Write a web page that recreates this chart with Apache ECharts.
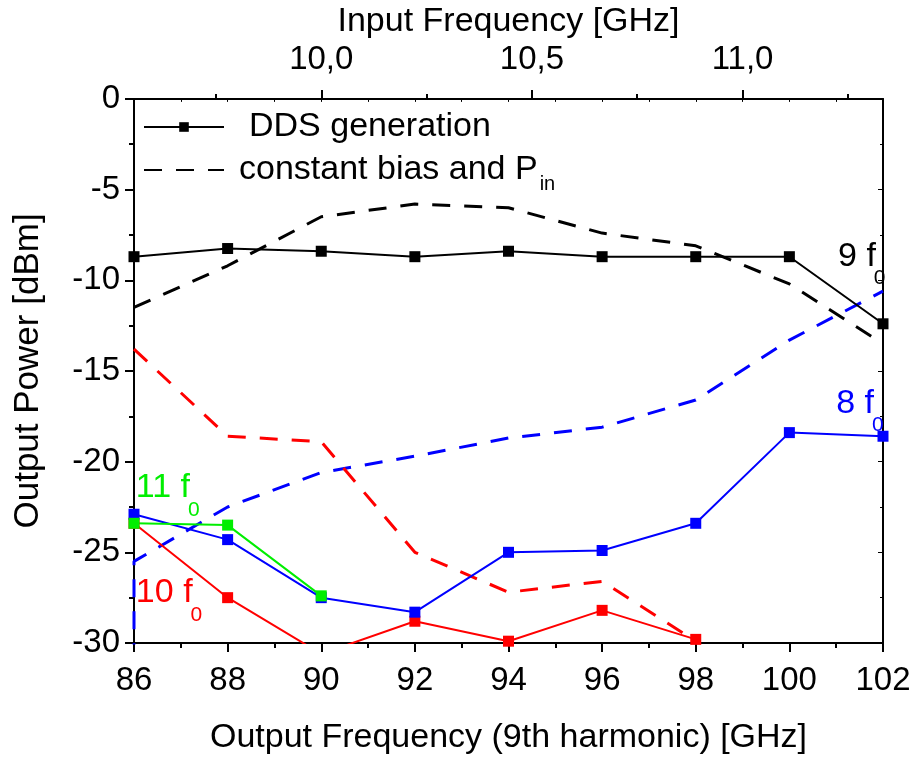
<!DOCTYPE html>
<html>
<head>
<meta charset="utf-8">
<script src="https://cdn.jsdelivr.net/npm/echarts@6/dist/echarts.min.js"></script>
<style>html,body{margin:0;padding:0;background:#fff}#c{width:915px;height:760px}</style>
</head>
<body>
<div id="c"></div>
<script>
// ---- data ----
const outFreq = [86, 88, 90, 92, 94, 96, 98, 100, 102];
const dds9 = [-8.7, -8.25, -8.4, -8.7, -8.4, -8.7, -8.7, -8.7, -12.4];
const bias9 = [-11.5, -9.2, -6.5, -5.8, -6.0, -7.4, -8.1, -10.2, -13.5];
const dds8 = [-22.9, -24.3, -27.5, -28.3, -25.0, -24.9, -23.4, -18.4, -18.6];
const bias8 = [-25.5, -22.5, -20.6, -19.7, -18.7, -18.1, -16.6, -13.3, -10.6];
const bias8Start = [86, -31];
const dds10 = [-23.4, -27.5, -30.6, -28.8, -29.9, -28.2, -29.8];
const bias10 = [-13.8, -18.6, -18.9, -25.0, -27.2, -26.6, -29.9];
const dds11 = [-23.4, -23.5, -27.4];
const inputMajorTicks = [10.0, 10.5, 11.0];
const inputMinorTicks = [9.75, 10.25, 10.75, 11.25];
const harmonic = 9;
const annotations = [
  {main: '9 f', sub: '0', x: 101.04, y: -8.7, color: '#000000'},
  {main: '8 f', sub: '0', x: 101.0, y: -16.8, color: '#0000ff'},
  {main: '11 f', sub: '0', x: 86.04, y: -21.45, color: '#00ee00'},
  {main: '10 f', sub: '0', x: 86.04, y: -27.25, color: '#ff0000'}
];

const FONT = 'Liberation Sans';
const TICK_FS = 33, NAME_FS = 34, LEG_FS = 34, ANN_FS = 34;
const pair = (xs, ys) => ys.map((v, i) => [xs[i], v]);

const chart = echarts.init(document.getElementById('c'), null, {renderer: 'canvas'});

const solid = (name, color, data) => ({
  name, type: 'line', data, xAxisIndex: 0, yAxisIndex: 0,
  symbol: 'rect', symbolSize: 11, clip: true,
  lineStyle: {color, width: 2}, itemStyle: {color},
  emphasis: {disabled: true}, silent: true, animation: false, z: 4
});
const dashed = (name, color, data) => ({
  name, type: 'line', data, xAxisIndex: 0, yAxisIndex: 0,
  symbol: 'none', clip: true,
  lineStyle: {color, width: 3, type: [18, 14]}, itemStyle: {color},
  emphasis: {disabled: true}, silent: true, animation: false, z: 3
});

const option = {
  animation: false,
  textStyle: {fontFamily: FONT},
  grid: {left: 134, right: 32, top: 92, bottom: 112, containLabel: false},
  legend: {
    orient: 'vertical', left: 138, top: 105, itemWidth: 80, itemHeight: 12, itemGap: 9,
    selectedMode: false,
    data: [
      {name: 'DDS generation'},
      {name: 'constant', itemStyle: {opacity: 0, borderWidth: 0}}
    ],
    formatter: n => n === 'DDS generation' ? '{a|DDS generation}' : '{b|constant bias and P}{s|in}',
    textStyle: {
      fontFamily: FONT, fontSize: LEG_FS, color: '#000',
      rich: {
        a: {fontFamily: FONT, fontSize: LEG_FS, color: '#000', padding: [0, 0, 0, 20]},
        b: {fontFamily: FONT, fontSize: LEG_FS, color: '#000', padding: [0, 0, 0, 10]},
        s: {fontFamily: FONT, fontSize: 20, color: '#000', padding: [28, 0, 0, 2]}
      }
    }
  },
  xAxis: [
    {
      type: 'value', position: 'bottom', min: 86, max: 102, interval: 2,
      name: 'Output Frequency (9th harmonic) [GHz]', nameLocation: 'middle', nameGap: 78,
      nameTextStyle: {fontFamily: FONT, fontSize: NAME_FS, color: '#000'},
      axisLine: {show: true, onZero: false, lineStyle: {color: '#000', width: 2}},
      axisTick: {show: true, inside: false, length: 9, lineStyle: {color: '#000', width: 2}},
      minorTick: {show: true, splitNumber: 2, length: 5, lineStyle: {color: '#000', width: 2}},
      axisLabel: {fontFamily: FONT, fontSize: TICK_FS, color: '#000', margin: 21},
      splitLine: {show: false}
    },
    {
      type: 'value', position: 'top', min: 86 / harmonic, max: 102 / harmonic,
      name: 'Input Frequency [GHz]', nameLocation: 'middle', nameGap: 56,
      nameTextStyle: {fontFamily: FONT, fontSize: NAME_FS, color: '#000'},
      axisLine: {show: true, onZero: false, lineStyle: {color: '#000', width: 2}},
      axisTick: {show: true, inside: false, length: 9, customValues: inputMajorTicks, lineStyle: {color: '#000', width: 2}},
      axisLabel: {fontFamily: FONT, fontSize: TICK_FS, color: '#000', margin: 22, customValues: inputMajorTicks,
        formatter: v => v.toFixed(1).replace('.', ',')},
      splitLine: {show: false}
    },
    {
      type: 'value', position: 'top', min: 86 / harmonic, max: 102 / harmonic,
      axisLine: {show: false},
      axisTick: {show: true, inside: false, length: 5, customValues: inputMinorTicks, lineStyle: {color: '#000', width: 2}},
      axisLabel: {show: false, customValues: inputMinorTicks},
      splitLine: {show: false}
    },
    {
      type: 'value', position: 'top', min: 86, max: 102, interval: 1,
      axisLine: {show: false},
      axisTick: {show: true, inside: true, length: 3, lineStyle: {color: '#000', width: 1}},
      axisLabel: {show: false},
      splitLine: {show: false}
    }
  ],
  yAxis: [
    {
      type: 'value', position: 'left', min: -30, max: 0, interval: 5,
      name: 'Output Power [dBm]', nameLocation: 'middle', nameGap: 88, nameRotate: 90,
      nameTextStyle: {fontFamily: FONT, fontSize: 35, color: '#000'},
      axisLine: {show: true, onZero: false, lineStyle: {color: '#000', width: 2}},
      axisTick: {show: true, inside: false, length: 9, lineStyle: {color: '#000', width: 2}},
      minorTick: {show: true, splitNumber: 2, length: 5, lineStyle: {color: '#000', width: 2}},
      axisLabel: {fontFamily: FONT, fontSize: TICK_FS, color: '#000', margin: 14},
      splitLine: {show: false}
    },
    {
      type: 'value', position: 'right', min: -30, max: 0, interval: 5,
      axisLine: {show: true, onZero: false, lineStyle: {color: '#000', width: 2}},
      axisTick: {show: true, inside: true, length: 5, lineStyle: {color: '#000', width: 1}},
      minorTick: {show: true, splitNumber: 2, length: 3, lineStyle: {color: '#000', width: 1}},
      axisLabel: {show: false},
      splitLine: {show: false}
    }
  ],
  series: [
    {name: 'DDS generation', type: 'line', data: [], symbol: 'rect', symbolSize: 11,
      lineStyle: {color: '#000', width: 2}, itemStyle: {color: '#000'}},
    {name: 'constant', type: 'line', data: [], symbol: 'none', showSymbol: false,
      lineStyle: {color: '#000', width: 3, type: [18, 14]}, itemStyle: {color: '#000'}},
    dashed('bias9', '#000000', pair(outFreq, bias9)),
    dashed('bias8', '#0000ff', [bias8Start].concat(pair(outFreq, bias8))),
    dashed('bias10', '#ff0000', pair(outFreq, bias10)),
    solid('dds9', '#000000', pair(outFreq, dds9)),
    solid('dds10', '#ff0000', pair(outFreq, dds10)),
    solid('dds8', '#0000ff', pair(outFreq, dds8)),
    solid('dds11', '#00ee00', pair(outFreq, dds11))
  ]
};
chart.setOption(option);

// annotations placed from data coordinates
const ctx = document.createElement('canvas').getContext('2d');
ctx.font = ANN_FS + 'px "' + FONT + '"';
const gfx = [];
annotations.forEach(a => {
  const p = chart.convertToPixel({xAxisIndex: 0, yAxisIndex: 0}, [a.x, a.y]);
  const w = ctx.measureText(a.main).width;
  gfx.push({type: 'text', x: p[0], y: p[1], silent: true, z: 10,
    style: {text: a.main, fill: a.color, font: ANN_FS + 'px "' + FONT + '"', verticalAlign: 'middle', align: 'left'}});
  gfx.push({type: 'text', x: p[0] + w - 2, y: p[1] + 22, silent: true, z: 10,
    style: {text: a.sub, fill: a.color, font: '21px "' + FONT + '"', verticalAlign: 'middle', align: 'left'}});
});
chart.setOption({graphic: gfx});
</script>
</body>
</html>
